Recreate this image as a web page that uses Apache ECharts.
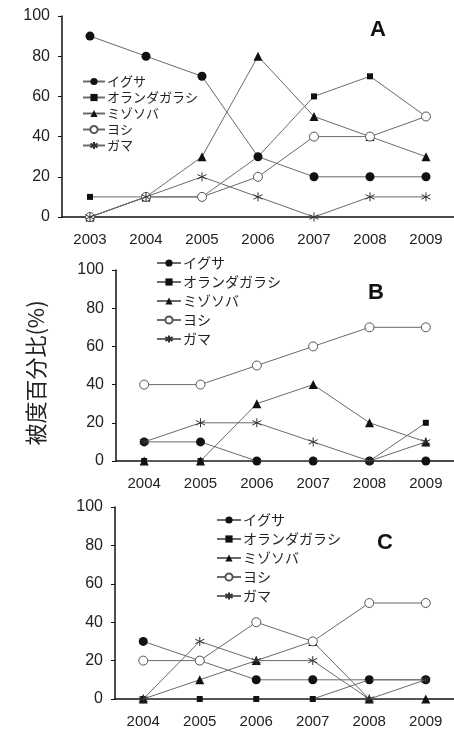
<!DOCTYPE html>
<html><head><meta charset="utf-8">
<script src="https://cdn.jsdelivr.net/npm/echarts@6/dist/echarts.min.js"></script>
<style>html,body{margin:0;padding:0;background:#fff}#c{width:454px;height:731px}</style>
</head><body><div id="c"></div>
<script>
const seriesNames = ['イグサ','オランダガラシ','ミゾソバ','ヨシ','ガマ'];
const yearsA = ['2003','2004','2005','2006','2007','2008','2009'];
const yearsBC = ['2004','2005','2006','2007','2008','2009'];
const yTicks = [0,20,40,60,80,100];
const panelLabels = ['A','B','C'];
// Panel A
const a_igusa = [90,80,70,30,20,20,20];
const a_oranda = [10,10,10,30,60,70,50];
const a_mizosoba = [0,10,30,80,50,40,30];
const a_yoshi = [0,10,10,20,40,40,50];
const a_gama = [0,10,20,10,0,10,10];
// Panel B
const b_igusa = [10,10,0,0,0,0];
const b_oranda = [0,0,0,0,0,20];
const b_mizosoba = [0,0,30,40,20,10];
const b_yoshi = [40,40,50,60,70,70];
const b_gama = [10,20,20,10,0,10];
// Panel C
const c_igusa = [30,20,10,10,10,10];
const c_oranda = [0,0,0,0,10,10];
const c_mizosoba = [0,10,20,30,0,0];
const c_yoshi = [20,20,40,30,50,50];
const c_gama = [0,30,20,20,0,10];

const panels = [
  {cats: yearsA, data:[a_igusa,a_oranda,a_mizosoba,a_yoshi,a_gama]},
  {cats: yearsBC, data:[b_igusa,b_oranda,b_mizosoba,b_yoshi,b_gama]},
  {cats: yearsBC, data:[c_igusa,c_oranda,c_mizosoba,c_yoshi,c_gama]}
];
const grids = [
  {left:62, top:16, width:397, height:201},
  {left:116, top:270, width:345, height:191},
  {left:115, top:507, width:345, height:192}
];
const legendPos = [
  {left:82, top:75, itemGap:3, w:22, fs:13},
  {left:156, top:256, itemGap:5, w:24, fs:14},
  {left:216, top:513, itemGap:5, w:24, fs:14}
];
const letterPos = [[378,30],[376,293],[385,543]];

const lineColor = '#6a6a6a';
const mark = '#111';
const asterisk = 'path://M0,-5L0,5M-4.3,-2.5L4.3,2.5M-4.3,2.5L4.3,-2.5';
const styles = [
  {symbol:'circle', symbolSize:9, itemStyle:{color:mark, borderWidth:0}},
  {symbol:'rect', symbolSize:6, itemStyle:{color:mark, borderWidth:0}},
  {symbol:'triangle', symbolSize:9, itemStyle:{color:mark, borderWidth:0}},
  {symbol:'circle', symbolSize:9, itemStyle:{color:'#fff', borderColor:'#555', borderWidth:1}},
  {symbol:asterisk, symbolSize:9, itemStyle:{color:'none', borderColor:'#333', borderWidth:1}}
];

const font = "'Liberation Sans', Arial, sans-serif";
const jfont = "'Noto Sans CJK JP', sans-serif";
const option = {
  animation:false,
  backgroundColor:'#fff',
  grid: grids,
  xAxis: panels.map((p,i)=>({
    type:'category', gridIndex:i, data:p.cats, boundaryGap:true,
    axisLine:{lineStyle:{color:'#111', width:1.5}},
    axisTick:{inside:true, length:4, lineStyle:{color:'#111'}},
    axisLabel:{color:'#222', fontSize:15, fontFamily:font, margin:15},
    splitLine:{show:false}
  })),
  yAxis: panels.map((p,i)=>({
    type:'value', gridIndex:i, min:yTicks[0], max:yTicks[yTicks.length-1], interval:20,
    axisLine:{show:true, lineStyle:{color:'#111', width:1.5}},
    axisTick:{show:true, length:4, lineStyle:{color:'#111'}},
    axisLabel:{color:'#222', fontSize:16, fontFamily:font, margin:12},
    splitLine:{show:false}
  })),
  legend: legendPos.map((lp,i)=>({
    orient:'vertical', left:lp.left, top:lp.top, itemGap:lp.itemGap,
    itemWidth:lp.w, itemHeight:9, padding:0,
    data: seriesNames,
    textStyle:{fontSize:lp.fs, color:'#222', fontFamily:jfont, padding:[0,0,0,-3]},
    selectedMode:false
  })),
  series: [],
  graphic: [
    ...panelLabels.map((t,i)=>({type:'text', x:letterPos[i][0], y:letterPos[i][1],
      style:{text:t, font:"bold 22px 'Liberation Sans', Arial", fill:'#111', textAlign:'center', textVerticalAlign:'middle'}})),
    {type:'text', x:36, y:373, rotation:Math.PI/2,
      style:{text:'被度百分比(%)', font:"22px 'Noto Sans CJK JP'", fill:'#222', textAlign:'center', textVerticalAlign:'middle'}}
  ]
};
panels.forEach((p,i)=>{
  p.data.forEach((d,k)=>{
    option.series.push(Object.assign({
      type:'line', name:seriesNames[k], xAxisIndex:i, yAxisIndex:i, data:d,
      lineStyle:{color:lineColor, width:1}, z:2+k
    }, styles[k]));
  });
});
echarts.init(document.getElementById('c')).setOption(option);
</script></body></html>
